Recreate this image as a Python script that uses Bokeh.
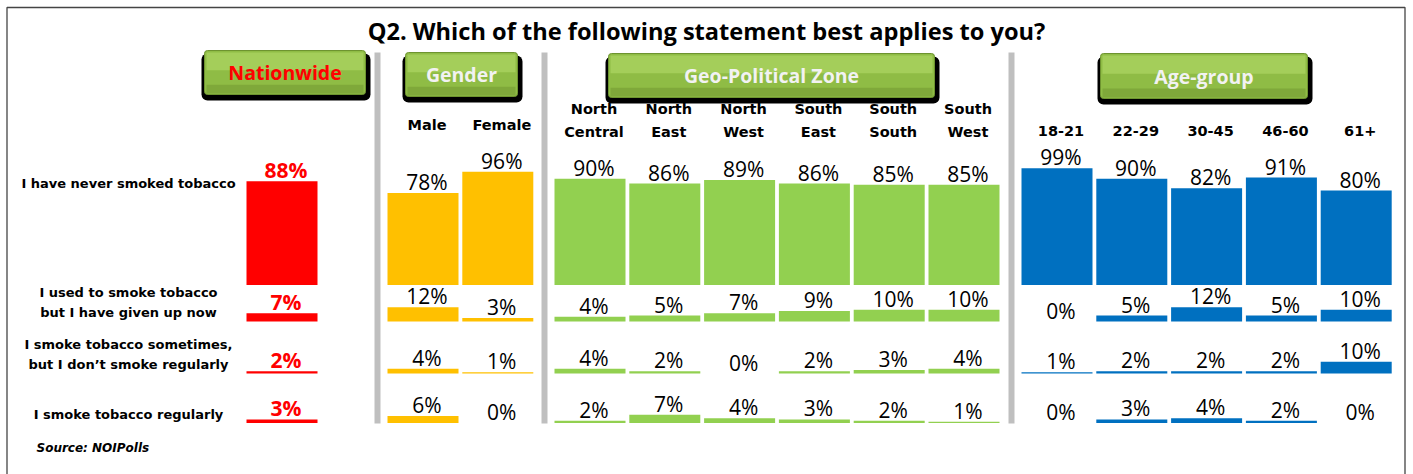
from bokeh.plotting import figure
from bokeh.models import Range1d
from bokeh.embed import file_html
from bokeh.resources import INLINE
from bokeh.core.properties import value

# ---------------- data ----------------
title = "Q2. Which of the following statement best applies to you?"
statements = ["I have never smoked tobacco",
              "I used to smoke tobacco\nbut I have given up now",
              "I smoke tobacco sometimes,\nbut I don\u2019t smoke regularly",
              "I smoke tobacco regularly"]
groups = ["Nationwide", "Gender", "Geo-Political Zone", "Age-group"]
gender_cats = ["Male", "Female"]
zone_cats = ["North\nCentral", "North\nEast", "North\nWest",
             "South\nEast", "South\nSouth", "South\nWest"]
age_cats = ["18-21", "22-29", "30-45", "46-60", "61+"]

nationwide = [88, 7, 2, 3]
male = [78, 12, 4, 6]
female = [96, 3, 1, 0]
north_central = [90, 4, 4, 2]
north_east = [86, 5, 2, 7]
north_west = [89, 7, 0, 4]
south_east = [86, 9, 2, 3]
south_south = [85, 10, 3, 2]
south_west = [85, 10, 4, 1]
age_18_21 = [99, 0, 1, 0]
age_22_29 = [90, 5, 2, 3]
age_30_45 = [82, 12, 2, 4]
age_46_60 = [91, 5, 2, 2]
age_61_plus = [80, 10, 10, 0]
source_note = "Source: NOIPolls"

# ---------------- layout ----------------
K = 1.18                      # pixels per percentage point
FIG_L, FIG_R, FIG_T, FIG_B = 0, 1413, 0, 474
def py(pix):
    return (FIG_B - pix) / K

row_base_px = [284.5, 321, 373, 422.5]
row_label_y_px = [183, 301.5, 353.5, 414]
PITCH, BAR_W = 74.8, 71

group_specs = [
    (groups[0], [""], [nationwide], "#FF0000", 246),
    (groups[1], gender_cats, [male, female], "#FFC000", 387),
    (groups[2], zone_cats, [north_central, north_east, north_west,
                            south_east, south_south, south_west], "#92D050", 554),
    (groups[3], age_cats, [age_18_21, age_22_29, age_30_45, age_46_60, age_61_plus],
     "#0070C0", 1021),
]
buttons_px = [(201, 370, 50, 100), (402, 522, 52, 102), (605, 939, 53, 103), (1097, 1312, 53, 104)]
button_text_colors = ["#FF0000", "#F2F2F2", "#F2F2F2", "#F2F2F2"]
separators_x = [374, 541, 1008]

p = figure(width=FIG_R - FIG_L, height=FIG_B - FIG_T,
           x_range=Range1d(FIG_L, FIG_R), y_range=Range1d(py(FIG_B), py(FIG_T)),
           output_backend="svg", toolbar_location=None, min_border=0)
p.xaxis.visible = False
p.yaxis.visible = False
p.xgrid.visible = False
p.ygrid.visible = False
p.outline_line_color = None
p.background_fill_color = "white"
p.border_fill_color = "white"

# frame (left, top, right)
p.line(x=[6.5, 6.5, 1404.5, 1404.5],
       y=[py(FIG_B), py(7), py(7), py(FIG_B)],
       line_color="#444444", line_width=1.3)

# title
p.text(x=[706], y=[py(30)], text=[title], text_font=value("Open Sans"),
       text_font_style="bold", text_font_size="23.6px", text_align="center",
       text_baseline="middle", text_color="black")

# separators
p.quad(left=[x for x in separators_x], right=[x + 6 for x in separators_x],
       top=py(52), bottom=py(423), fill_color="#BFBFBF", line_color=None)

# buttons
for (l, r, t, b), g, tc in zip(buttons_px, groups, button_text_colors):
    p.quad(left=[l], right=[r], top=[py(t + 3)], bottom=[py(b)], fill_color="black",
           line_color=None, border_radius=6)
    fl, fr, ft, fb = l + 3, r - 5, t, b - 6
    h = fb - ft
    p.quad(left=[fl], right=[fr], top=[py(ft)], bottom=[py(fb)], fill_color="#8FBC45",
           line_color="#6E9430", line_width=1, border_radius=3)
    p.quad(left=[fl + 2], right=[fr - 2], top=[py(ft + 2)], bottom=[py(ft + h * 0.45)],
           fill_color="#A4CE5A", line_color=None)
    p.quad(left=[fl + 2], right=[fr - 2], top=[py(fb - h * 0.22)], bottom=[py(fb - 1)],
           fill_color="#7FA83A", line_color=None)
    p.text(x=[(fl + fr) / 2], y=[py((ft + fb) / 2)], text=[g],
           text_font=value("Open Sans"), text_font_style="bold", text_font_size="19.5px",
           text_align="center", text_baseline="middle", text_color=tc)

# row labels
lab_x, lab_y, lab_t = [], [], []
for s, cy in zip(statements, row_label_y_px):
    lines = s.split("\n")
    n = len(lines)
    for i, ln in enumerate(lines):
        lab_x.append(128)
        lab_y.append(py(cy + (i - (n - 1) / 2) * 20))
        lab_t.append(ln)
p.text(x=lab_x, y=lab_y, text=lab_t, text_font=value("DejaVu Sans"), text_font_style="bold",
       text_font_size="13px", text_align="center", text_baseline="middle", text_color="black")

# bars + labels + column headers
bx, bb, bt, bc = [], [], [], []
vx_red, vy_red, vt_red = [], [], []
vx, vy, vt = [], [], []
hx, hy, ht = [], [], []
for gname, cats, series, color, x0 in group_specs:
    for j, (cat, vals) in enumerate(zip(cats, series)):
        xc = x0 + j * PITCH + BAR_W / 2
        for r, v in enumerate(vals):
            base = py(row_base_px[r])
            bx.append(xc); bb.append(base); bt.append(base + v); bc.append(color)
            if gname == groups[0]:
                vx_red.append(xc + 4); vy_red.append(base + v); vt_red.append(f"{v}%")
            else:
                vx.append(xc + 4); vy.append(base + v); vt.append(f"{v}%")
        if cat:
            lines = cat.split("\n")
            if len(lines) == 2:
                ys = [108, 131]
            else:
                ys = [124] if gname == groups[1] else [130]
            for ln, yy in zip(lines, ys):
                hx.append(xc + 4); hy.append(py(yy)); ht.append(ln)

p.vbar(x=bx, width=BAR_W, bottom=bb, top=bt, fill_color=bc, line_color=None)
p.text(x=vx, y=vy, text=vt, text_font=value("Open Sans"), text_font_size="21px",
       text_align="center", text_baseline="bottom", y_offset=3, text_color="black")
p.text(x=vx_red, y=vy_red, text=vt_red, text_font=value("Open Sans"), text_font_style="bold",
       text_font_size="21px", text_align="center", text_baseline="bottom", y_offset=3,
       text_color="#FF0000")
p.text(x=hx, y=hy, text=ht, text_font=value("DejaVu Sans"), text_font_style="bold",
       text_font_size="14.5px", text_align="center", text_baseline="middle", text_color="black")

# source
p.text(x=[36], y=[py(447)], text=[source_note], text_font=value("DejaVu Sans"),
       text_font_style="bold italic", text_font_size="12px", text_align="left",
       text_baseline="middle", text_color="black")

open("out.html", "w").write(file_html(p, INLINE))
